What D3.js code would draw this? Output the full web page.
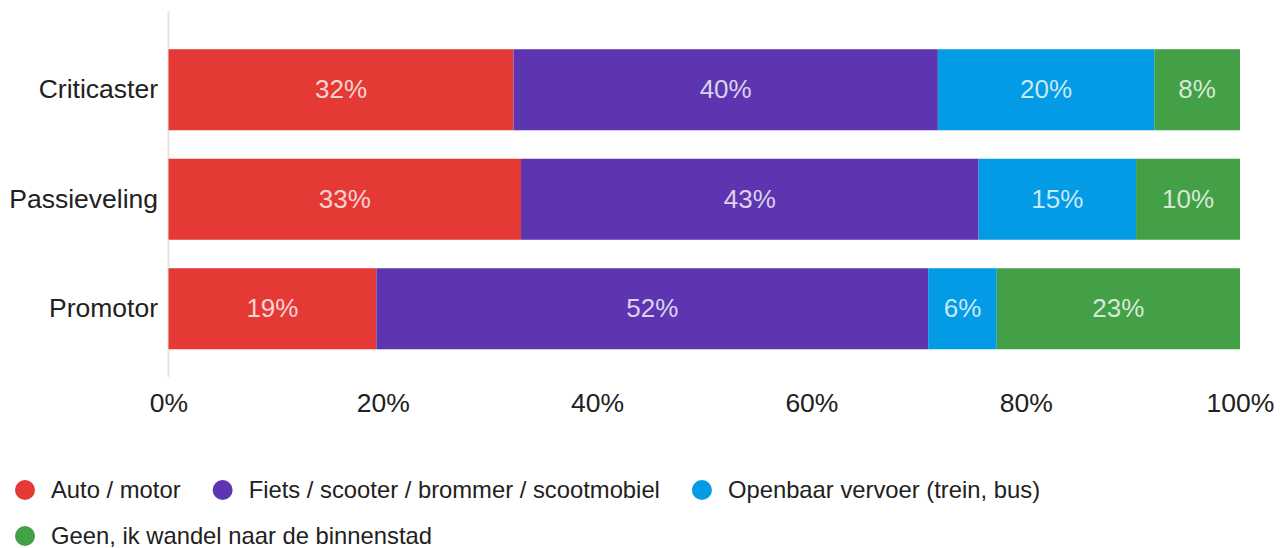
<!DOCTYPE html>
<html><head><meta charset="utf-8">
<script src="https://cdn.jsdelivr.net/npm/d3@7"></script>
<style>body{margin:0;background:#fff;}svg{display:block;font-family:"Liberation Sans",Arial,sans-serif;}</style>
</head><body><svg id="c" width="1285" height="548"></svg>
<script>
const categories = ["Criticaster", "Passieveling", "Promotor"];
const seriesNames = ["Auto / motor", "Fiets / scooter / brommer / scootmobiel", "Openbaar vervoer (trein, bus)", "Geen, ik wandel naar de binnenstad"];
const autoMotor = [32.2, 32.9, 19.4];
const fiets = [39.6, 42.7, 51.5];
const ov = [20.2, 14.7, 6.4];
const geen = [8.0, 9.7, 22.7];
const colors = ["#e53935", "#5e35b1", "#039be5", "#43a047"];
const tickValues = [0, 20, 40, 60, 80, 100];

const seriesValues = [autoMotor, fiets, ov, geen];
const rows = categories.map((c, i) => {
  const o = {cat: c};
  seriesNames.forEach((s, j) => o[s] = seriesValues[j][i]);
  return o;
});
const stacked = d3.stack().keys(seriesNames)(rows);

const svg = d3.select("#c");
const x = d3.scaleLinear().domain([0, 100]).range([168.5, 1240]);
const y = d3.scaleBand().domain(categories).range([35, 363.5]).paddingInner(0.26).paddingOuter(0.13);

// baseline line
svg.append("line").attr("x1", x(0)).attr("x2", x(0)).attr("y1", 11).attr("y2", 377)
  .attr("stroke", "#e6e6e6").attr("stroke-width", 2);

const g = svg.append("g");
stacked.forEach((s, j) => {
  const grp = g.append("g").attr("fill", colors[j]);
  grp.selectAll("rect").data(s).join("rect")
    .attr("x", d => x(d[0])).attr("width", d => x(d[1]) - x(d[0]))
    .attr("y", d => y(d.data.cat)).attr("height", y.bandwidth());
  g.append("g").selectAll("text").data(s).join("text")
    .attr("x", d => (x(d[0]) + x(d[1])) / 2)
    .attr("y", d => y(d.data.cat) + y.bandwidth() / 2)
    .attr("dy", "0.33em").attr("text-anchor", "middle")
    .attr("fill", "#fff").attr("fill-opacity", 0.78)
    .style("font-size", "26px")
    .text(d => Math.round(d[1] - d[0]) + "%");
});

// y axis labels
const yAxis = svg.append("g").attr("transform", `translate(158,0)`)
  .call(d3.axisLeft(y).tickSize(0).tickPadding(0));
yAxis.select(".domain").remove();
yAxis.selectAll("text").style("font-size", "26.5px").attr("fill", "#212121")
  .style("font-family", "'Liberation Sans',Arial,sans-serif").attr("dy", "0.32em");

// x axis
const xAxis = svg.append("g").attr("transform", `translate(0,393)`)
  .call(d3.axisBottom(x).tickValues(tickValues).tickFormat(d => d + "%").tickSize(0).tickPadding(0));
xAxis.select(".domain").remove();
xAxis.selectAll("text").style("font-size", "26.5px").attr("fill", "#212121")
  .style("font-family", "'Liberation Sans',Arial,sans-serif").attr("dy", "0.71em");

// legend
const leg = svg.append("g");
let lx = 25, ly = 490;
seriesNames.forEach((name, j) => {
  if (j === 3) { lx = 25; ly = 536; }
  leg.append("circle").attr("cx", lx).attr("cy", ly).attr("r", 10).attr("fill", colors[j]);
  const t = leg.append("text").attr("x", lx + 26).attr("y", ly).attr("dy", "0.35em")
    .style("font-size", "23.8px").attr("fill", "#212121").text(name);
  lx = lx + 26 + t.node().getComputedTextLength() + 42;
});
</script></body></html>
